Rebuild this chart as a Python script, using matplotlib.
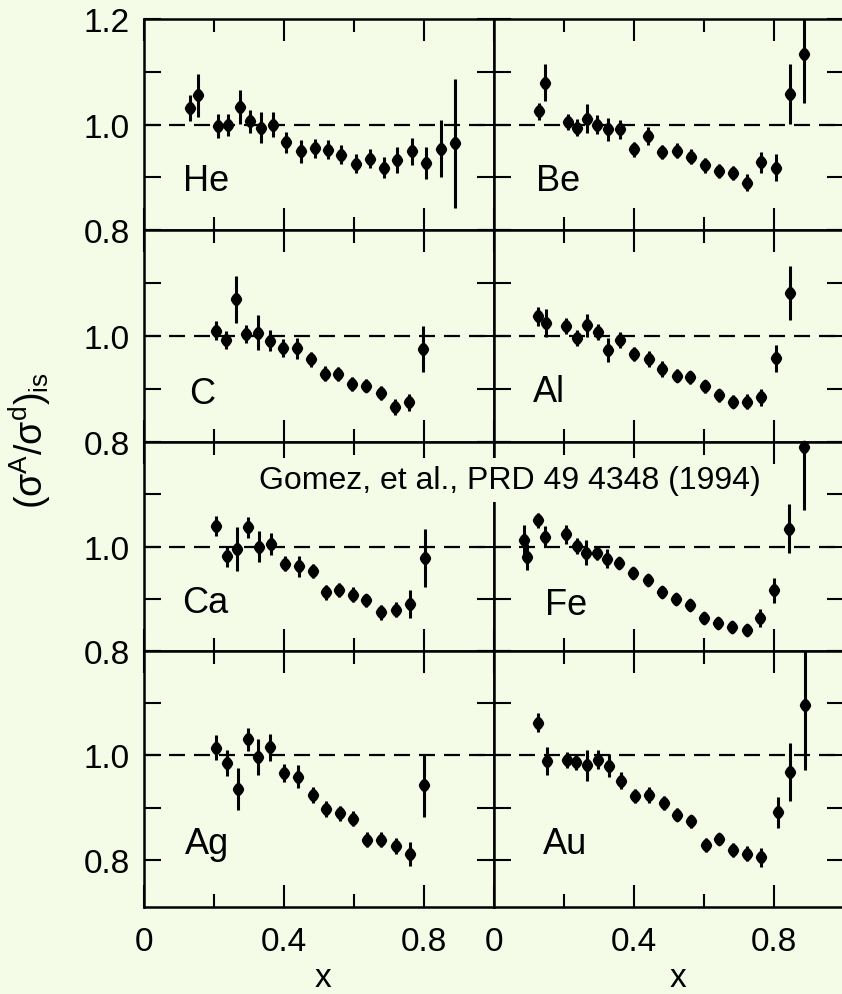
import numpy as np
import matplotlib
matplotlib.use("Agg")
import matplotlib.pyplot as plt
from matplotlib.ticker import FixedLocator

plt.rcParams['font.family'] = ['Liberation Sans', 'DejaVu Sans']
plt.rcParams['mathtext.fontset'] = 'custom'
plt.rcParams['mathtext.rm'] = 'Liberation Sans'
plt.rcParams['lines.scale_dashes'] = False

# ratio sigma_A / sigma_d (isoscalar corrected), one list per nucleus
he_x = [0.130, 0.154, 0.210, 0.240, 0.273, 0.304, 0.333, 0.369, 0.407, 0.448, 0.488,
        0.526, 0.562, 0.605, 0.645, 0.685, 0.724, 0.767, 0.805, 0.850, 0.888]
he_y = [1.031, 1.055, 0.997, 0.999, 1.033, 1.006, 0.994, 1.000, 0.966, 0.949, 0.955,
        0.952, 0.943, 0.926, 0.935, 0.918, 0.933, 0.949, 0.927, 0.954, 0.964]
he_err = [0.024, 0.040, 0.023, 0.020, 0.032, 0.022, 0.029, 0.023, 0.020, 0.022, 0.018,
          0.018, 0.018, 0.018, 0.018, 0.020, 0.025, 0.025, 0.030, 0.054, 0.123]

be_x = [0.129, 0.146, 0.210, 0.238, 0.267, 0.295, 0.326, 0.360, 0.400, 0.440, 0.481,
        0.522, 0.562, 0.602, 0.643, 0.683, 0.722, 0.764, 0.805, 0.845, 0.886]
be_y = [1.025, 1.079, 1.004, 0.994, 1.011, 1.000, 0.991, 0.991, 0.953, 0.978, 0.948,
        0.950, 0.939, 0.923, 0.912, 0.908, 0.890, 0.928, 0.918, 1.058, 1.134]
be_err = [0.016, 0.035, 0.015, 0.016, 0.027, 0.018, 0.022, 0.018, 0.014, 0.017, 0.014,
          0.014, 0.014, 0.014, 0.014, 0.014, 0.016, 0.020, 0.026, 0.057, 0.094]

c_x = [0.205, 0.233, 0.264, 0.292, 0.326, 0.359, 0.397, 0.436, 0.476, 0.517, 0.555,
       0.595, 0.633, 0.676, 0.717, 0.757, 0.798]
c_y = [1.010, 0.992, 1.069, 1.003, 1.006, 0.991, 0.977, 0.977, 0.956, 0.929, 0.929,
       0.910, 0.906, 0.892, 0.866, 0.875, 0.975]
c_err = [0.018, 0.017, 0.045, 0.017, 0.033, 0.020, 0.017, 0.020, 0.014, 0.014, 0.013,
         0.013, 0.012, 0.013, 0.015, 0.016, 0.043]

al_x = [0.125, 0.149, 0.206, 0.238, 0.266, 0.297, 0.327, 0.361, 0.401, 0.444, 0.479,
        0.522, 0.561, 0.603, 0.644, 0.683, 0.722, 0.764, 0.806, 0.845]
al_y = [1.037, 1.025, 1.019, 0.997, 1.020, 1.008, 0.974, 0.992, 0.966, 0.957, 0.937,
        0.925, 0.922, 0.905, 0.888, 0.876, 0.876, 0.884, 0.958, 1.081]
al_err = [0.018, 0.026, 0.015, 0.015, 0.022, 0.015, 0.023, 0.015, 0.013, 0.015, 0.015,
          0.012, 0.012, 0.012, 0.012, 0.012, 0.014, 0.016, 0.025, 0.051]

ca_x = [0.205, 0.237, 0.265, 0.296, 0.329, 0.363, 0.402, 0.442, 0.483, 0.519, 0.557,
        0.597, 0.635, 0.677, 0.719, 0.761, 0.802]
ca_y = [1.040, 0.981, 0.996, 1.037, 1.000, 1.004, 0.967, 0.962, 0.953, 0.912, 0.917,
        0.908, 0.897, 0.874, 0.879, 0.890, 0.978]
ca_err = [0.019, 0.020, 0.042, 0.020, 0.030, 0.021, 0.014, 0.020, 0.014, 0.014, 0.014,
          0.014, 0.013, 0.014, 0.014, 0.026, 0.056]

fe_x = [0.086, 0.095, 0.125, 0.146, 0.205, 0.236, 0.263, 0.295, 0.324, 0.358, 0.398, 0.439,
        0.481, 0.519, 0.560, 0.600, 0.641, 0.679, 0.722, 0.760, 0.801, 0.844, 0.887]
fe_y = [1.012, 0.980, 1.050, 1.019, 1.023, 1.001, 0.988, 0.988, 0.977, 0.968, 0.949, 0.936,
        0.912, 0.899, 0.888, 0.863, 0.854, 0.846, 0.840, 0.863, 0.916, 1.034, 1.190]
fe_err = [0.030, 0.025, 0.015, 0.020, 0.018, 0.015, 0.024, 0.013, 0.018, 0.012, 0.011, 0.012,
          0.011, 0.011, 0.011, 0.011, 0.011, 0.011, 0.011, 0.017, 0.024, 0.047, 0.120]

ag_x = [0.205, 0.237, 0.269, 0.298, 0.327, 0.360, 0.400, 0.440, 0.483, 0.519, 0.559,
        0.597, 0.636, 0.676, 0.719, 0.760, 0.801]
ag_y = [1.015, 0.986, 0.936, 1.031, 0.997, 1.016, 0.967, 0.959, 0.925, 0.897, 0.889,
        0.879, 0.839, 0.839, 0.827, 0.812, 0.943]
ag_err = [0.024, 0.025, 0.040, 0.022, 0.034, 0.026, 0.017, 0.022, 0.015, 0.015, 0.014,
          0.014, 0.014, 0.014, 0.015, 0.023, 0.060]

au_x = [0.126, 0.150, 0.208, 0.233, 0.265, 0.297, 0.329, 0.362, 0.403, 0.443, 0.486,
        0.522, 0.564, 0.605, 0.643, 0.683, 0.724, 0.762, 0.810, 0.845, 0.888]
au_y = [1.063, 0.990, 0.992, 0.987, 0.981, 0.992, 0.980, 0.952, 0.923, 0.925, 0.909,
        0.887, 0.874, 0.829, 0.840, 0.819, 0.812, 0.805, 0.891, 0.968, 1.096]
au_err = [0.018, 0.027, 0.015, 0.015, 0.029, 0.018, 0.022, 0.016, 0.013, 0.015, 0.014,
          0.013, 0.013, 0.013, 0.012, 0.013, 0.014, 0.018, 0.029, 0.055, 0.123]

names = ['He', 'Be', 'C', 'Al', 'Ca', 'Fe', 'Ag', 'Au']
xs = [he_x, be_x, c_x, al_x, ca_x, fe_x, ag_x, au_x]
ys = [he_y, be_y, c_y, al_y, ca_y, fe_y, ag_y, au_y]
errs = [he_err, be_err, c_err, al_err, ca_err, fe_err, ag_err, au_err]

# where each name sits inside its panel (data coords)
label_pos = [(0.11, 0.875), (0.12, 0.875), (0.13, 0.873), (0.11, 0.878),
             (0.11, 0.875), (0.145, 0.871), (0.117, 0.814), (0.14, 0.814)]

W, H = 842, 995
bg = '#f4fce8'
fig = plt.figure(figsize=(W / 100, H / 100), dpi=100, facecolor=bg)

def px_box(l, t, r, b):
    return [l / W, 1 - b / H, (r - l) / W, (b - t) / H]

row_edges = [20, 231, 443, 652, 908]
col_edges = [144, 494, 844]

# rounded diamond used for the points
t = np.linspace(0, 2 * np.pi, 41)
blob = np.column_stack([0.8 * np.sign(np.cos(t)) * np.abs(np.cos(t)) ** 1.4,
                        np.sign(np.sin(t)) * np.abs(np.sin(t)) ** 1.4])

for i, name in enumerate(names):
    row, col = divmod(i, 2)
    ax = fig.add_axes(px_box(col_edges[col], row_edges[row],
                             col_edges[col + 1], row_edges[row + 1]))
    ax.set_facecolor(bg)
    ax.set_xlim(0, 1.0)
    ax.set_ylim(0.71 if row == 3 else 0.8, 1.2)

    ax.axhline(1.0, color='black', lw=1.6, dashes=(11.5, 6.5), zorder=1)

    ax.errorbar(xs[i], ys[i], yerr=errs[i], fmt='none', ecolor='black',
                elinewidth=2.2, capsize=0, zorder=2)
    ax.plot(xs[i], ys[i], ls='none', marker=blob, ms=9, color='black',
            zorder=3, clip_on=False)

    ax.text(label_pos[i][0], label_pos[i][1], name, fontsize=26,
            ha='left', va='baseline')

    for s in ax.spines.values():
        s.set_linewidth(1.8)

    ax.xaxis.set_major_locator(FixedLocator([0, 0.4, 0.8]))
    ax.xaxis.set_minor_locator(FixedLocator([0.2, 0.6]))
    ax.yaxis.set_major_locator(FixedLocator([0.8, 1.0, 1.2]))
    ax.yaxis.set_minor_locator(FixedLocator([0.9, 1.1]))
    ax.tick_params(which='both', direction='in', top=True, right=True,
                   width=1.5, labelsize=24)
    ax.tick_params(axis='x', which='major', length=16, pad=14)
    ax.tick_params(axis='x', which='minor', length=9.5)
    ax.tick_params(axis='y', which='both', length=12, pad=10)

    if row == 3:
        ax.set_xticklabels(['0', '0.4', '0.8'])
    else:
        ax.set_xticklabels([])
    if col == 0:
        ax.set_yticklabels(['0.8', '1.0', '1.2' if row == 0 else ''])
    else:
        ax.set_yticklabels([])

fig.text(323 / W, 1 - 987 / H, 'x', fontsize=24, ha='center', va='baseline')
fig.text(678 / W, 1 - 987 / H, 'x', fontsize=24, ha='center', va='baseline')

fig.text(30 / W, 1 - 441 / H, r'$\mathregular{(σ^A/σ^d)_{is}}$', fontsize=27,
         rotation=90, ha='center', va='center')

fig.text(259 / W, 1 - 489 / H, 'Gomez, et al., PRD 49 4348 (1994)', fontsize=23,
         ha='left', va='baseline',
         bbox=dict(facecolor=bg, edgecolor='none', pad=5))

fig.savefig('out.png', dpi=100, facecolor=bg)
